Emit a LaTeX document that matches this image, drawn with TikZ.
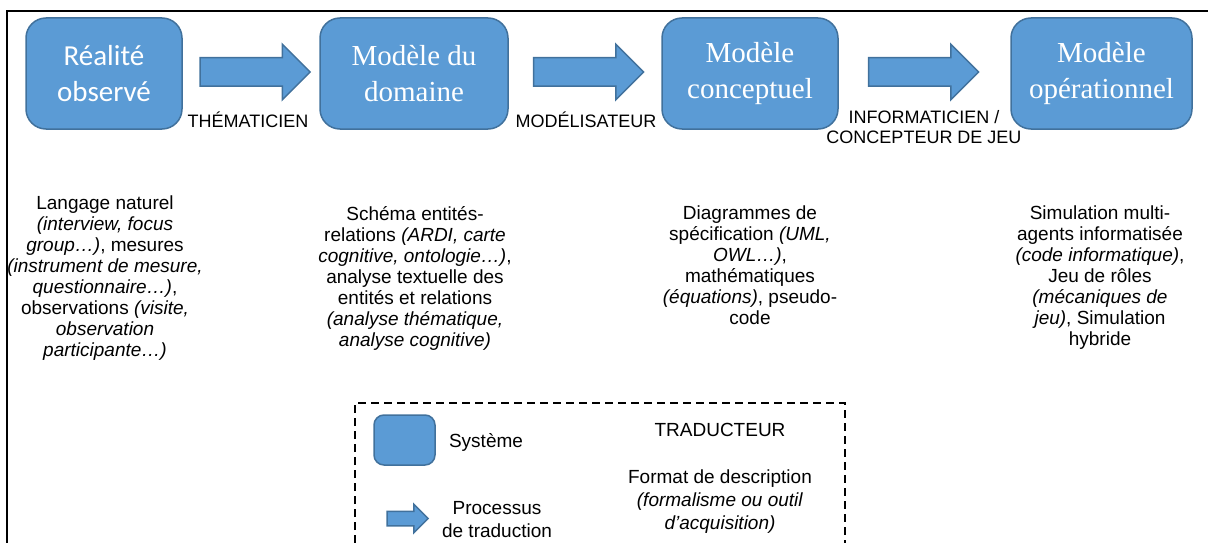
\documentclass[tikz,border=0pt]{standalone}
\usepackage{fontspec}
\setmainfont{Liberation Sans}
\newfontfamily\calibrifont{Carlito}
\newfontfamily\timesfont{Liberation Serif}
\usetikzlibrary{shapes}
\usetikzlibrary{arrows}
\definecolor{bleu}{HTML}{5B9BD5}
\definecolor{bordbleu}{HTML}{41719C}

\begin{document}
\begin{tikzpicture}[x=1pt,y=1pt]
					\tikzstyle{systeme}=[rectangle, rounded corners=20pt, draw=bordbleu, fill=bleu, line width=1.5pt, minimum height=111pt, text=white, align=center, font=\fontsize{29}{36}\selectfont\timesfont]
					\tikzstyle{processus}=[single arrow, draw=bordbleu, fill=bleu, line width=1.5pt, single arrow head extend=13.5pt, single arrow tip angle=90, minimum width=54pt, minimum height=110pt, inner xsep=0pt, inner ysep=13.5pt]
					\tikzstyle{acteur}=[align=center, inner sep=0pt, font=\fontsize{18}{20}\selectfont]
					\tikzstyle{format}=[align=center, inner sep=0pt, anchor=north, font=\fontsize{19}{21}\selectfont]
					
					\useasboundingbox (0,0) rectangle (1208,-543);
					\draw[line width=2pt] (1208,-11) -- (7,-11) -- (7,-543);
					
					\node[systeme, minimum width=156pt, font=\fontsize{29}{36}\selectfont\calibrifont] (reel) at (104,-73.5) {R\'ealit\'e\\observ\'e};
					\node[systeme, minimum width=188pt] (domaine) at (414,-73.5) {Mod\`ele du\\domaine};
					\node[systeme, minimum width=176pt] (conceptuel) at (750,-73.5) {Mod\`ele\\conceptuel};
					\node[systeme, minimum width=181pt] (operationnel) at (1101.5,-73.5) {Mod\`ele\\op\'erationnel};
					
					\node[processus] (fleche1) at (248,-72) {};
					\node[processus] (fleche2) at (581.5,-72) {};
					\node[processus] (fleche3) at (916.5,-72) {};
					
					\node[acteur] (thematicien) at (248,-120) {TH\'EMATICIEN};
					\node[acteur] (modelisateur) at (586,-120) {MOD\'ELISATEUR};
					\node[acteur] (informaticien) at (924,-127) {INFORMATICIEN /\\CONCEPTEUR DE JEU};
					
					\node[format] (txtreel) at (105,-196) {Langage naturel\\\textit{(interview, focus}\\\textit{group…)}, mesures\\\textit{(instrument de mesure,}\\\textit{questionnaire…)},\\observations \textit{(visite,}\\\textit{observation}\\\textit{participante…)}};
					\node[format] (txtdomaine) at (415,-206) {Sch\'ema entit\'es-\\relations \textit{(ARDI, carte}\\\textit{cognitive, ontologie…)},\\analyse textuelle des\\entit\'es et relations\\\textit{(analyse th\'ematique,}\\\textit{analyse cognitive)}};
					\node[format] (txtconceptuel) at (750,-206) {Diagrammes de\\sp\'ecification \textit{(UML,}\\\textit{OWL…)},\\math\'ematiques\\\textit{(\'equations)}, pseudo-\\code};
					\node[format] (txtoperationnel) at (1100,-206) {Simulation multi-\\agents informatis\'ee\\\textit{(code informatique)},\\Jeu de r\^oles\\\textit{(m\'ecaniques de}\\\textit{jeu)}, Simulation\\hybride};
					
					% legende
					\draw[line width=2pt, dash pattern=on 8pt off 5pt] (355,-543) -- (355,-403) -- (845,-403) -- (845,-543);
					\node[systeme, minimum width=61pt, minimum height=50pt, rounded corners=10pt] (legsys) at (404.5,-440) {};
					\node[format, anchor=center] (legsystxt) at (486,-442) {Syst\`eme};
					\node[processus, minimum width=27pt, minimum height=41pt, single arrow head extend=7pt, inner ysep=6.5pt] (legfleche) at (404,-518.5) {};
					\node[format, anchor=center, font=\fontsize{19}{23}\selectfont] (legproc) at (497,-520) {Processus\\de traduction};
					\node[format, anchor=center] (traducteur) at (720,-430) {TRADUCTEUR};
					\node[format, anchor=center, font=\fontsize{19}{23}\selectfont] (legformat) at (720,-502) {Format de description\\\textit{(formalisme ou outil}\\\textit{d’acquisition)}};
					
					;\end{tikzpicture}
\end{document}
